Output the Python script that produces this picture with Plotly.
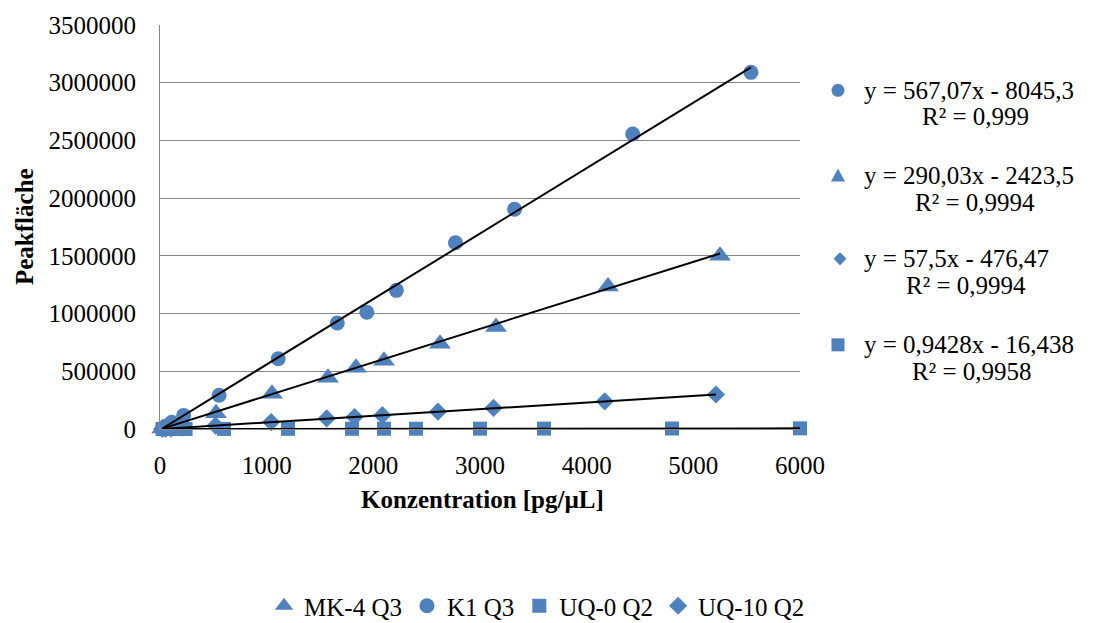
import plotly.graph_objects as go

# ---------------- data ----------------
k1_x = [5540, 4432, 3324, 2770, 2216, 1939, 1662, 1108, 554, 221.6, 110.8, 55.4, 22.2]
k1_y = [3090000, 2556000, 1904000, 1613000, 1201000, 1012000, 918000, 609000, 292000, 118000, 58000, 24000, 9000]

mk4_x = [5250, 4200, 3150, 2625, 2100, 1837.5, 1575, 1050, 525, 210, 105, 52.5, 21]
mk4_y = [1501000, 1235000, 884000, 738000, 592000, 530000, 445000, 305000, 137000, 58000, 28000, 13000, 5000]

uq10_x = [5212, 4170, 3127, 2606, 2085, 1824, 1563, 1042, 521, 208, 104, 52, 21]
uq10_y = [299000, 240000, 183000, 150000, 120000, 104000, 92000, 60000, 30000, 11500, 5600, 2600, 900]

uq0_x = [6000, 4800, 3600, 3000, 2400, 2100, 1800, 1200, 600, 240, 120, 60, 24]
uq0_y = [5620, 4510, 3390, 2810, 2250, 1960, 1690, 1110, 560, 210, 100, 45, 8]

# trendline coefficients (slope, intercept) and labels
k1_fit = (567.07, -8045.3)
mk4_fit = (290.03, -2423.5)
uq10_fit = (57.5, -476.47)
uq0_fit = (0.9428, -16.438)

eq_labels = ["y = 567,07x - 8045,3", "y = 290,03x - 2423,5", "y = 57,5x - 476,47", "y = 0,9428x - 16,438"]
r2_labels = ["R² = 0,999", "R² = 0,9994", "R² = 0,9994", "R² = 0,9958"]

x_ticks = [0, 1000, 2000, 3000, 4000, 5000, 6000]
y_ticks = [0, 500000, 1000000, 1500000, 2000000, 2500000, 3000000, 3500000]

# ---------------- style ----------------
BLUE = "#4F81BD"
FONT = "Liberation Serif"
FS = 25

fig = go.Figure()

series = [
    ("MK-4 Q3", mk4_x, mk4_y, "triangle-up", 19),
    ("K1 Q3", k1_x, k1_y, "circle", 15),
    ("UQ-0 Q2", uq0_x, uq0_y, "square", 14),
    ("UQ-10 Q2", uq10_x, uq10_y, "diamond", 14),
]
for name, xs, ys, sym, sz in series:
    fig.add_trace(go.Scatter(
        x=xs, y=ys, mode="markers", name=name,
        marker=dict(symbol=sym, size=sz, color=BLUE, line=dict(width=0)),
        cliponaxis=False,
    ))

for (xs, fit) in [(k1_x, k1_fit), (mk4_x, mk4_fit), (uq10_x, uq10_fit), (uq0_x, uq0_fit)]:
    x0, x1 = min(xs), max(xs)
    fig.add_trace(go.Scatter(
        x=[x0, x1], y=[fit[0] * x0 + fit[1], fit[0] * x1 + fit[1]],
        mode="lines", line=dict(color="black", width=2),
        showlegend=False, hoverinfo="skip", cliponaxis=False,
    ))

# ---- right-side trendline legend (annotations + marker shapes) ----
L, W, B, H = 160, 640, 429, 408
def px(x):
    return (x - L) / W
def py(y):
    return (B - y) / H

line1_y = [87, 173, 257, 344]
line2_y = [113, 200, 284, 371]
line2_cx = [975, 975, 966, 972]

shapes = []
shapes.append(dict(type="circle", xref="paper", yref="paper", xsizemode="pixel", ysizemode="pixel",
                   xanchor=px(838), yanchor=py(87), x0=-6.5, x1=6.5, y0=-6.5, y1=6.5,
                   fillcolor=BLUE, line=dict(width=0)))
shapes.append(dict(type="path", xref="paper", yref="paper", xsizemode="pixel", ysizemode="pixel",
                   xanchor=px(838), yanchor=py(173), path="M-7,-6 L7,-6 L0,7 Z",
                   fillcolor=BLUE, line=dict(width=0)))
shapes.append(dict(type="path", xref="paper", yref="paper", xsizemode="pixel", ysizemode="pixel",
                   xanchor=px(840), yanchor=py(257), path="M0,-6.5 L6.5,0 L0,6.5 L-6.5,0 Z",
                   fillcolor=BLUE, line=dict(width=0)))
shapes.append(dict(type="rect", xref="paper", yref="paper", xsizemode="pixel", ysizemode="pixel",
                   xanchor=px(838), yanchor=py(344), x0=-6.5, x1=6.5, y0=-6.5, y1=6.5,
                   fillcolor=BLUE, line=dict(width=0)))

annotations = []
for i in range(4):
    annotations.append(dict(text=eq_labels[i], xref="paper", yref="paper", x=px(862), y=py(line1_y[i]),
                            xanchor="left", yanchor="middle", showarrow=False,
                            font=dict(family=FONT, size=FS, color="black")))
    annotations.append(dict(text=r2_labels[i], xref="paper", yref="paper", x=px(line2_cx[i]), y=py(line2_y[i]),
                            xanchor="center", yanchor="middle", showarrow=False,
                            font=dict(family=FONT, size=FS, color="black")))

annotations.append(dict(text="<b>Konzentration [pg/µL]</b>", xref="paper", yref="paper",
                        x=px(482), y=py(500), xanchor="center", yanchor="middle", showarrow=False,
                        font=dict(family=FONT, size=FS, color="black")))
annotations.append(dict(text="<b>Peakfläche</b>", xref="paper", yref="paper",
                        x=px(24), y=py(225), xanchor="center", yanchor="middle", showarrow=False,
                        textangle=-90, font=dict(family=FONT, size=FS, color="black")))

fig.update_layout(
    width=1096, height=623,
    margin=dict(l=160, r=296, t=21, b=194),
    paper_bgcolor="white", plot_bgcolor="white",
    font=dict(family=FONT, size=FS, color="black"),
    showlegend=True,
    legend=dict(orientation="h", xref="container", yref="container", x=0.49, y=1 - 606 / 623,
                xanchor="center", yanchor="middle", font=dict(family=FONT, size=FS, color="black"),
                itemwidth=30, traceorder="normal", tracegroupgap=0),
    shapes=shapes,
    annotations=annotations,
    xaxis=dict(range=[0, 6000], tickvals=x_ticks, ticktext=[str(v) for v in x_ticks],
               showgrid=False, zeroline=False, showline=True, linecolor="#868686", linewidth=1,
               ticks="", ticklabelstandoff=14, tickfont=dict(family=FONT, size=FS, color="black")),
    yaxis=dict(range=[0, 3500000], tickvals=y_ticks, ticktext=[str(v) for v in y_ticks],
               showgrid=True, gridcolor="#868686", gridwidth=1, zeroline=False,
               showline=True, linecolor="#868686", linewidth=1,
               ticks="", ticklabelstandoff=18, tickfont=dict(family=FONT, size=FS, color="black")),
)

fig.write_html("out.html")
